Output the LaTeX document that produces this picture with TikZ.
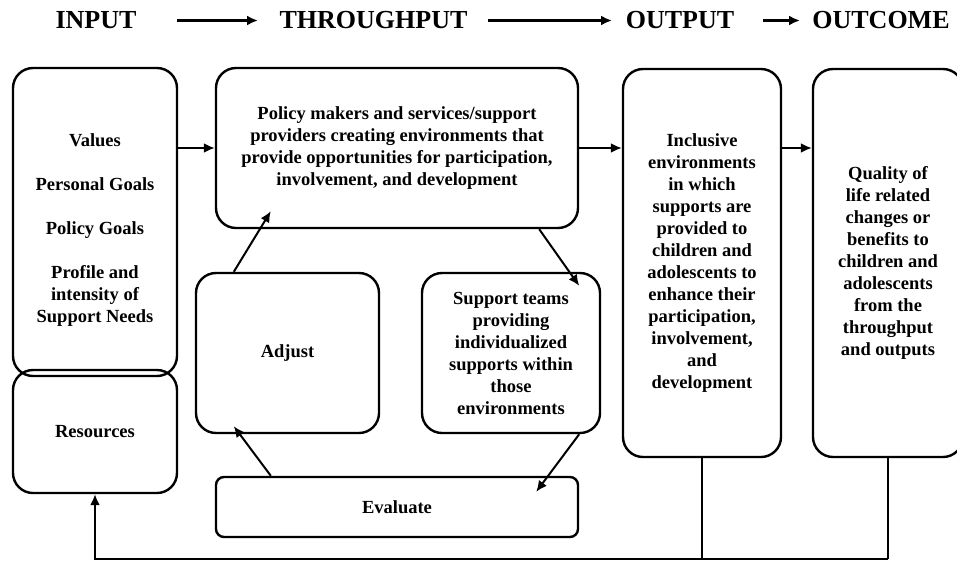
\documentclass[tikz,border=0pt]{standalone}
\usepackage{fontspec}
\setmainfont{Liberation Serif}
\usetikzlibrary{arrows.meta}
\begin{document}
\begin{tikzpicture}[x=1pt,y=-1pt,
  box/.style={draw, line width=2.4pt, rounded corners=20pt, inner sep=0pt, align=center,
    font=\bfseries\fontsize{18.5}{22}\selectfont},
  txt/.style={inner sep=0pt, align=center, font=\bfseries\fontsize{18.5}{22}\selectfont},
  head/.style={inner sep=0pt, font=\bfseries\fontsize{26}{28}\selectfont},
  arr/.style={line width=2pt, -{Latex[length=11pt,width=10pt]}},
  harr/.style={line width=2.6pt, -{Latex[length=11pt,width=10pt]}},
  fb/.style={line width=2pt}]
\clip (0,0) rectangle (957,563);
\fill[white] (0,0) rectangle (957,563);

% header
\node[head] (hin) at (96,20.5) {INPUT};
\node[head] (hthr) at (373.5,20.5) {THROUGHPUT};
\node[head] (hout) at (680,20.5) {OUTPUT};
\node[head] (hoc) at (881,20.5) {OUTCOME};
\draw[harr] (177,20.5) coordinate (ha1) -- (258,20.5) coordinate (ha2);
\draw[harr] (488,20.5) coordinate (hb1) -- (612,20.5) coordinate (hb2);
\draw[harr] (763,20.5) coordinate (hc1) -- (800,20.5) coordinate (hc2);

% boxes
\node[box, minimum width=164pt, minimum height=308pt] (input) at (95,222) {};
\node[txt] (intext) at (95,230) {Values\\[22pt]Personal Goals\\[22pt]Policy Goals\\[22pt]Profile and\\intensity of\\Support Needs};
\node[box, minimum width=164pt, minimum height=123pt] (resources) at (95,431.5) {Resources};
\node[box, minimum width=362pt, minimum height=160pt] (policy) at (397,148)
  {Policy makers and services/support\\providers creating environments that\\provide opportunities for participation,\\involvement, and development};
\node[box, minimum width=183pt, minimum height=160pt] (adjust) at (287.5,353) {Adjust};
\node[box, minimum width=178pt, minimum height=160pt] (support) at (511,353)
  {Support teams\\providing\\individualized\\supports within\\those\\environments};
\node[box, rounded corners=8pt, minimum width=362pt, minimum height=60pt] (evaluate) at (397,507) {Evaluate};
\node[box, minimum width=158pt, minimum height=388pt] (output) at (702,263)
  {Inclusive\\environments\\in which\\supports are\\provided to\\children and\\adolescents to\\enhance their\\participation,\\involvement,\\and\\development};
\node[box, minimum width=150pt, minimum height=388pt] (outcome) at (888,263)
  {Quality of\\life related\\changes or\\benefits to\\children and\\adolescents\\from the\\throughput\\and outputs};

% horizontal connectors
\draw[arr] (input.east |- policy.west) -- (policy.west);
\draw[arr] (policy.east) -- (output.west |- policy.east);
\draw[arr] (output.east |- policy.east) -- (outcome.west |- policy.east);

% cycle
\draw[arr] ([xshift=39pt]adjust.north west) -- ([xshift=56pt,yshift=18pt]policy.south west);
\draw[arr] ([xshift=-40pt]policy.south east) -- ([xshift=-22pt,yshift=-14pt]support.north east);
\draw[arr] ([xshift=-22pt]support.south east) -- ([xshift=-43pt,yshift=-16pt]evaluate.north east);
\draw[arr] ([xshift=56pt]evaluate.north west) -- ([xshift=39pt,yshift=8pt]adjust.south west);

% feedback
\coordinate (fbR) at (888,559);
\draw[fb] (output.south) -- (output.south |- fbR);
\draw[fb] (outcome.south) -- (outcome.south |- fbR);
\draw[arr] (outcome.south |- fbR) -- (resources.south |- fbR) -- (resources.south);
\end{tikzpicture}
\end{document}
